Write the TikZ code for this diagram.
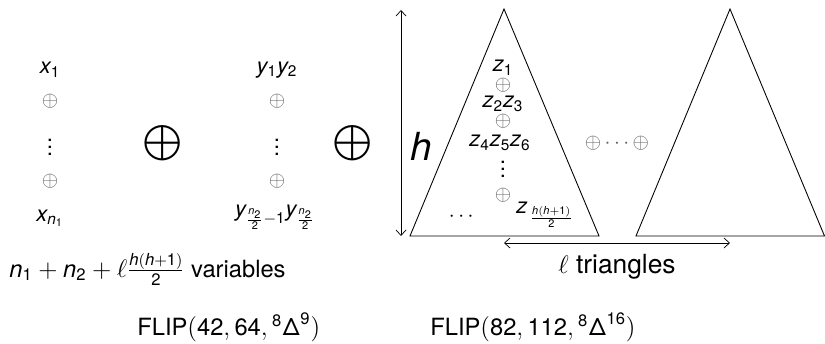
\documentclass[tikz,border=0pt]{standalone}
\usepackage{amsmath}
\usepackage{mathspec}
\setmainfont{TeX Gyre Heros}
\setmathsfont(Digits,Latin,Greek){TeX Gyre Heros}
\usetikzlibrary{arrows.meta,positioning}

\begin{document}
\begin{tikzpicture}[
	x=0.02cm, y=-0.02cm,
	>={Straight Barb[length=1.1mm,width=2mm]},
	node distance=0.1cm,
	var/.style={
		inner sep=1pt,
		font=\fontsize{12.5}{14}\selectfont
	},
	xorsmall/.style={
		inner sep=0pt,
		text=black!60,
		font=\fontsize{12}{14}\selectfont
	},
	xorbig/.style={
		inner sep=0pt,
		font=\fontsize{13.5}{15}\selectfont
	},
	total/.style={
		inner sep=0pt,
		anchor=base west,
		font=\fontsize{13.5}{15}\selectfont
	},
	tri/.style={
		draw,
		line width=0.5pt
	}
	]
	
	\useasboundingbox (0,0) rectangle (825,344);
	
	% first column
	\node[var] (x1) at (50,70) {$x_1$};
	\node[xorsmall] (xa) at (50,101) {$\oplus$};
	\node[var] (xdots) at (50,142) {$\vdots$};
	\node[xorsmall] (xb) at (50,181) {$\oplus$};
	\node[var] (xn) at (50,218) {$x_{n_1}$};
	
	\node[xorbig] (bigA) at (163,143) {$\displaystyle\bigoplus$};
	
	% second column
	\node[var] (y1) at (277,70) {$y_1y_2$};
	\node[xorsmall] (ya) at (277,101) {$\oplus$};
	\node[var] (ydots) at (277,142) {$\vdots$};
	\node[xorsmall] (yb) at (277,181) {$\oplus$};
	\node[var] (yn) at (275,217) {$y_{\frac{n_2}{2}-1}y_{\frac{n_2}{2}}$};
	
	\node[xorbig] (bigB) at (353,143) {$\displaystyle\bigoplus$};
	
	% triangles
	\coordinate (t1top) at (504,9);
	\coordinate (t1left) at (410,236);
	\coordinate (t1right) at (599,236);
	\coordinate (t2top) at (730,9);
	\coordinate (t2left) at (636,236);
	\coordinate (t2right) at (824.5,236);
	
	\draw[tri] (t1top) -- (t1left) -- (t1right) -- cycle;
	\draw[tri] (t2top) -- (t2left) -- (t2right) -- cycle;
	
	\coordinate (hup) at (401,10);
	\coordinate (hdown) at (401,236);
	\draw[<->] (hup) -- (hdown);
	\node[font=\fontsize{22}{24}\selectfont] (hlab) at (421,146) {$h$};
	
	\coordinate (lleft) at (504,243);
	\coordinate (lright) at (730,243);
	\draw[<->] (lleft) -- (lright);
	\node[var,anchor=base,font=\fontsize{15}{17}\selectfont] (llab) at (617,274) {$\ell$ triangles};
	
	% inside the first triangle
	\node[var] (z1) at (503,68) {$z_1$};
	\node[xorsmall] (za) at (503,85) {$\oplus$};
	\node[var] (z23) at (503,104) {$z_2z_3$};
	\node[xorsmall] (zb) at (503,121) {$\oplus$};
	\node[var] (z456) at (500,143) {$z_4z_5z_6$};
	\node[var] (zdots) at (503,164) {$\vdots$};
	\node[xorsmall] (zc) at (503,195) {$\oplus$};
	\node[var] (zlast) at (545,215) {$z_{\,\frac{h(h+1)}{2}}$};
	\node[var] (zrow) at (463,217) {$\cdots$};
	
	\node[xorsmall] (between) at (617,143) {$\oplus\cdots\oplus$};
	
	% totals
	\node[total] (count) at (9,277) {$n_1+n_2+\ell\frac{h(h+1)}{2}$ variables};
	\node[total] (flipA) at (137,336) {$\text{FLIP}(42,64,{}^8\Delta^9)$};
	\node[total] (flipB) at (430,336) {$\text{FLIP}(82,112,{}^8\Delta^{16})$};
	
\end{tikzpicture}
\end{document}
